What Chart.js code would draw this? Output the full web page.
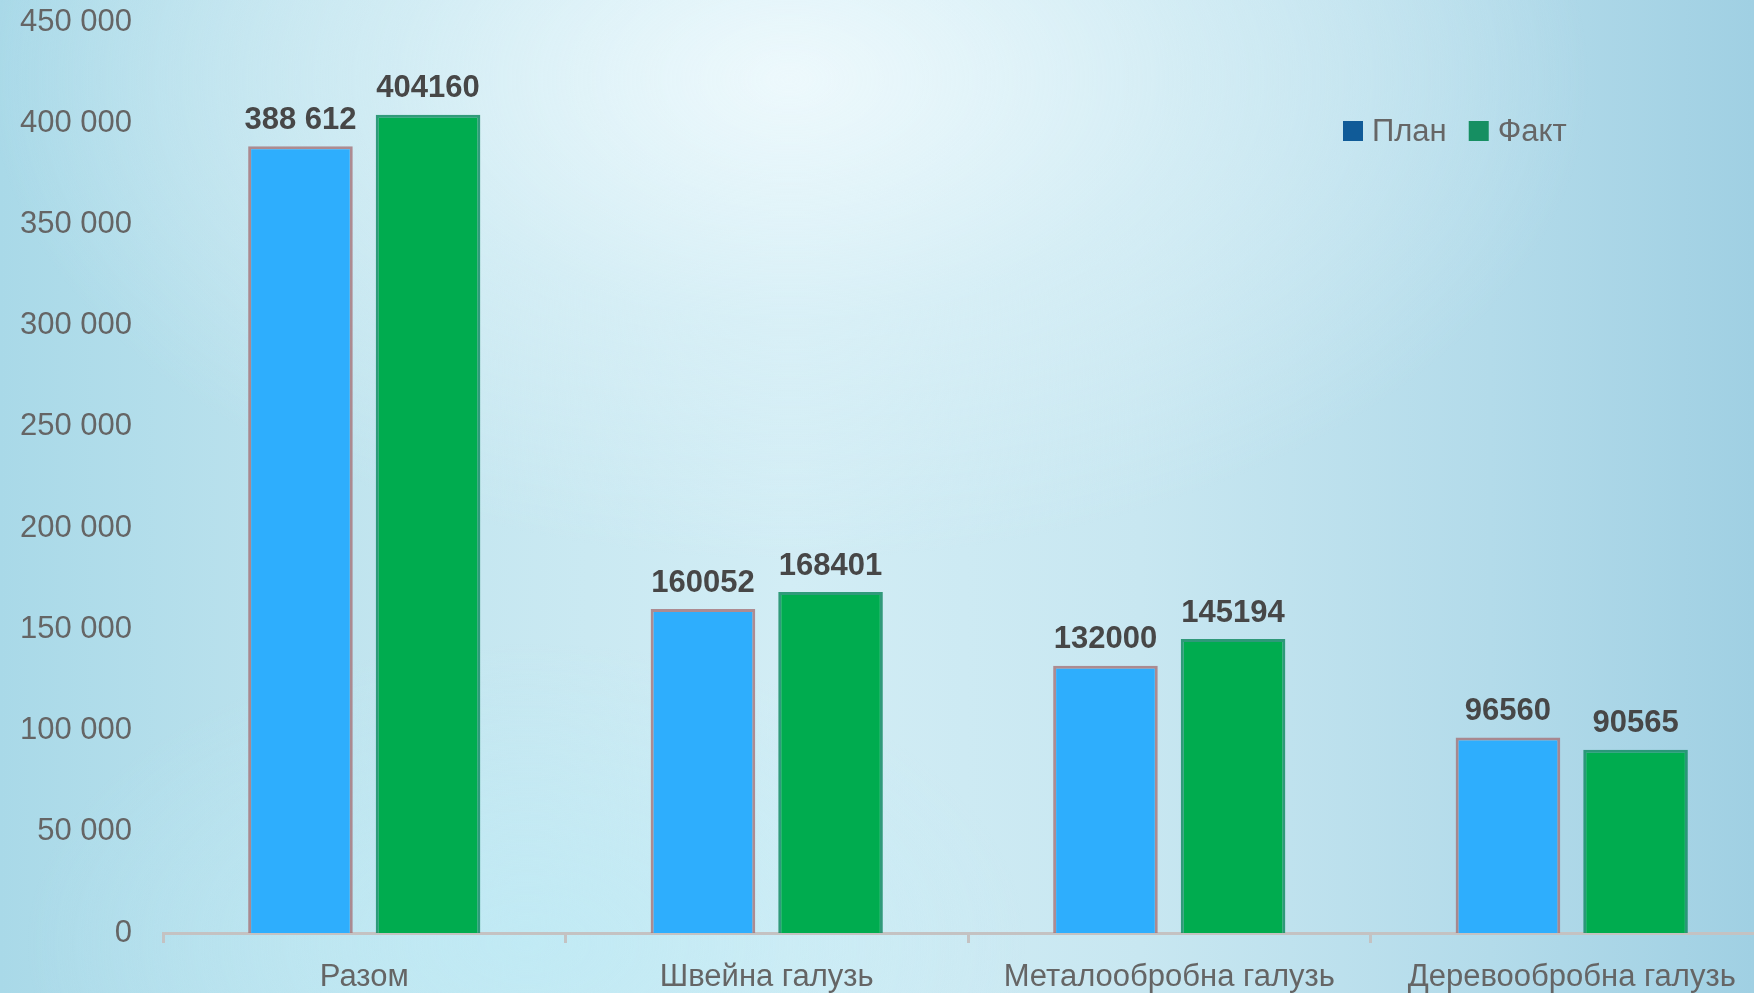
<!DOCTYPE html>
<html>
<head>
<meta charset="utf-8">
<script src="https://cdn.jsdelivr.net/npm/chart.js@4/dist/chart.umd.min.js"></script>
<style>
  html, body { margin: 0; padding: 0; overflow: hidden; width: 1754px; height: 993px; }
  body {
    background:
      radial-gradient(ellipse 800px 480px at 45% 8%, rgba(240,250,253,0.9) 0%, rgba(222,242,248,0.55) 50%, rgba(222,242,248,0) 100%),
      radial-gradient(ellipse 500px 300px at 30% 95%, rgba(190,235,246,0.7) 0%, rgba(190,235,246,0) 100%),
      linear-gradient(to right, #a9d9e8 0%, #c2e5ef 22%, #d2edf5 45%, #c8e7f1 65%, #b3dbea 85%, #a0d0e3 100%);
  }
  #wrap { position: absolute; left: 0; top: 0; width: 1800px; height: 993px; }
</style>
</head>
<body>
<div id="wrap"><canvas id="chart" width="1800" height="993"></canvas></div>
<script>
// chart data
const categories = ['Разом', 'Швейна галузь', 'Металообробна галузь', 'Деревообробна галузь'];
const planValues = [388612, 160052, 132000, 96560];
const factValues = [404160, 168401, 145194, 90565];
const planLabels = ['388 612', '160052', '132000', '96560'];
const factLabels = ['404160', '168401', '145194', '90565'];
const seriesNames = ['План', 'Факт'];

const FONT = '"Liberation Sans", Arial, sans-serif';

function groupThousands(v) {
  return String(v).replace(/\B(?=(\d{3})+(?!\d))/g, ' ');
}

// value labels above each bar
const barLabelPlugin = {
  id: 'barLabels',
  afterDatasetsDraw(chart) {
    const ctx = chart.ctx;
    ctx.save();
    ctx.font = 'bold 31px ' + FONT;
    ctx.fillStyle = '#474747';
    ctx.textAlign = 'center';
    ctx.textBaseline = 'middle';
    chart.data.datasets.forEach((ds, di) => {
      chart.getDatasetMeta(di).data.forEach((bar, i) => {
        ctx.fillText(ds.valueLabels[i], bar.x, bar.y - 26);
      });
    });
    ctx.restore();
  }
};

// legend in the upper right, same look as the source
const legendPlugin = {
  id: 'fixedLegend',
  afterDraw(chart) {
    const ctx = chart.ctx;
    ctx.save();
    ctx.font = '31px ' + FONT;
    ctx.textBaseline = 'middle';
    let x = 1343;
    const y = 131;
    chart.data.datasets.forEach(ds => {
      ctx.fillStyle = ds.legendColor;
      ctx.fillRect(x, y - 10, 20, 20);
      ctx.fillStyle = '#666666';
      ctx.fillText(ds.label, x + 29, y + 1);
      x += 29 + ctx.measureText(ds.label).width + 22;
    });
    ctx.restore();
  }
};

new Chart(document.getElementById('chart'), {
  type: 'bar',
  data: {
    labels: categories,
    datasets: [
      {
        label: seriesNames[0],
        data: planValues,
        valueLabels: planLabels,
        backgroundColor: '#2eaefd',
        borderColor: 'rgba(165,115,120,0.8)',
        borderWidth: 3,
        legendColor: '#105b98'
      },
      {
        label: seriesNames[1],
        data: factValues,
        valueLabels: factLabels,
        backgroundColor: '#00ac4f',
        borderColor: 'rgba(20,140,100,0.85)',
        borderWidth: 3,
        legendColor: '#168f62'
      }
    ]
  },
  options: {
    responsive: false,
    animation: false,
    layout: { padding: { top: 22, right: 27, left: 0, bottom: 0 } },
    categoryPercentage: 0.634,
    barPercentage: 0.82,
    plugins: {
      legend: { display: false },
      tooltip: { enabled: false }
    },
    scales: {
      x: {
        afterFit: s => { s.height = 60; },
        border: { display: true, color: '#c4c2c2', width: 3 },
        grid: { display: true, drawOnChartArea: false, drawTicks: true, tickLength: 10, color: '#c4c2c2', lineWidth: 3, offset: true },
        ticks: { color: '#656565', font: { family: FONT, size: 31 }, padding: 16, maxRotation: 0 }
      },
      y: {
        min: 0,
        max: 450000,
        afterFit: s => { s.width = 163; s.paddingTop = 0; s.paddingBottom = 0; },
        border: { display: false },
        grid: { display: false, drawTicks: false },
        ticks: {
          stepSize: 50000,
          padding: 31,
          color: '#656565',
          font: { family: FONT, size: 31 },
          callback: v => groupThousands(v)
        }
      }
    }
  },
  plugins: [barLabelPlugin, legendPlugin]
});
</script>
</body>
</html>
